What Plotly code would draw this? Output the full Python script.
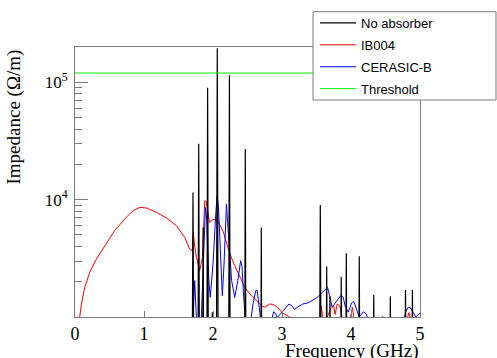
import plotly.graph_objects as go

# ---------------- data ----------------
# No absorber: narrow resonances (GHz, Ohm/m); baseline points lie below the axis range
no_abs_freq = [0.0, 1.700, 1.710, 1.720, 1.783, 1.793, 1.803, 1.850, 1.857, 1.864,
               1.912, 1.922, 1.932, 1.985, 1.990, 1.995, 2.050, 2.062, 2.074,
               2.228, 2.238, 2.248, 2.460, 2.468, 2.476, 2.694, 2.700, 2.706,
               3.545, 3.555, 3.565, 3.642, 3.648, 3.654, 3.690, 3.695, 3.700,
               3.852, 3.858, 3.864, 3.926, 3.932, 3.938, 4.114, 4.120, 4.126,
               4.325, 4.330, 4.335, 4.565, 4.570, 4.575, 4.784, 4.790, 4.796,
               4.884, 4.890, 4.896, 5.0]
no_abs_z = [500, 500, 11500, 500, 500, 30000, 500, 500, 5800, 500,
            500, 90000, 500, 500, 1100, 500, 500, 195000, 500,
            500, 115000, 500, 500, 27000, 500, 500, 5800, 500,
            500, 9000, 500, 500, 2700, 500, 500, 1500, 500,
            500, 2200, 500, 500, 3500, 500, 500, 3300, 500,
            500, 1550, 500, 500, 1500, 500, 500, 1700, 500,
            500, 1700, 500, 500]

ib004_freq = [0.068, 0.093, 0.141, 0.213, 0.31, 0.43, 0.575, 0.72, 0.84, 0.94, 1.035,
              1.18, 1.325, 1.47, 1.59, 1.66, 1.70, 1.715, 1.73, 1.76, 1.807, 1.846,
              1.88, 1.90, 1.95, 2.00, 2.07, 2.15, 2.24, 2.315, 2.387, 2.46, 2.535,
              2.63, 2.70, 2.75, 2.82, 2.87, 2.92, 3.01, 3.11, 3.16,
              3.55, 3.57, 3.60, 3.64, 3.705, 3.75, 3.77, 3.80, 3.84, 3.87, 3.91,
              3.98, 4.02, 4.05, 4.80, 4.84, 4.88]
ib004_z = [1000, 1290, 1790, 2400, 3120, 4060, 5440, 6840, 8060, 8600, 8490,
           7800, 6980, 6000, 4780, 3800, 3670, 5300, 4200, 3220, 2480, 3220,
           9800, 9700, 6400, 6800, 6600, 5300, 3500, 2740, 2180, 1790, 1570,
           1380, 1250, 1210, 1290, 1280, 1230, 1080, 1000, 900,
           900, 1240, 900, 950, 1170, 1250, 1050, 1290, 1240, 1000, 900,
           900, 1210, 900, 900, 1090, 900]

cerasic_freq = [1.70, 1.71, 1.735, 1.76, 1.83, 1.87, 1.89, 1.91, 1.94, 1.96, 2.00,
                2.04, 2.06, 2.08, 2.11, 2.135, 2.16, 2.185, 2.195, 2.22, 2.27, 2.315,
                2.36, 2.40, 2.42, 2.445, 2.47, 2.55, 2.58, 2.62, 2.64, 2.67, 2.69,
                2.85, 2.88, 2.91, 2.93, 2.99, 3.04, 3.10, 3.14, 3.18, 3.23, 3.30,
                3.38, 3.45, 3.51, 3.57, 3.63, 3.66, 3.69, 3.725, 3.76, 3.81, 3.85,
                3.885, 3.92, 3.96, 4.01, 4.04, 4.08, 4.12, 4.18, 4.22, 4.24, 4.44,
                4.46, 4.48, 4.77, 4.79, 4.83, 4.86, 4.90, 4.94, 4.97, 5.0]
cerasic_z = [900, 950, 2040, 950, 950, 5440, 8600, 6630, 2040, 1470, 2830,
             7550, 10800, 8600, 2830, 1520, 2830, 9200, 9200, 5440, 2040, 1470,
             2040, 3020, 2700, 1470, 950, 950, 1290, 1680, 1680, 1210, 950,
             950, 1110, 1060, 990, 1080, 1160, 1290, 1250, 1160, 1220, 1290,
             1320, 1390, 1470, 1590, 1700, 1790, 1520, 1220, 1290, 1430, 1520,
             1480, 1210, 1100, 1320, 1360, 1160, 1000, 1110, 1060, 990, 950,
             1010, 950, 950, 1100, 1210, 1200, 1100, 1000, 1040, 1080]

threshold_freq = [0.0, 5.0]
threshold_z = [1.2e5, 1.2e5]

x_ticks = [0, 1, 2, 3, 4, 5]
y_ticks = [1e4, 1e5]
y_ticktext = ["10<sup>4</sup>", "10<sup>5</sup>"]
y_minor = [m * 10 ** e for e in (3, 4) for m in range(2, 10)] + [2e5]

# ---------------- figure ----------------
W, H = 497, 358
L, R, T, B = 75, 77, 47, 41
pw, ph = W - L - R, H - T - B


def px_x(p):
    return (p - L) / pw


def px_y(p):
    return (H - B - p) / ph


fig = go.Figure()
fig.add_trace(go.Scatter(x=ib004_freq, y=ib004_z, mode="lines", name="IB004",
                         line=dict(color="#ff0000", width=1), legendrank=2,
                         legendgroup="b"))
fig.add_trace(go.Scatter(x=cerasic_freq, y=cerasic_z, mode="lines", name="CERASIC-B",
                         line=dict(color="#0000ff", width=1), legendrank=3,
                         legendgroup="c"))
fig.add_trace(go.Scatter(x=no_abs_freq, y=no_abs_z, mode="lines", name="No absorber",
                         line=dict(color="#000000", width=1.2), legendrank=1,
                         legendgroup="a"))
fig.add_trace(go.Scatter(x=threshold_freq, y=threshold_z, mode="lines", name="Threshold",
                         line=dict(color="#00ee00", width=1), legendrank=4,
                         legendgroup="d"))

frame = "#7a7a7a"
serif = "Liberation Serif, Times New Roman, serif"
sans = "Liberation Sans, Arial, Helvetica, sans-serif"

fig.update_layout(
    width=W, height=H,
    margin=dict(l=L, r=R, t=T, b=B, pad=0, autoexpand=False),
    paper_bgcolor="white", plot_bgcolor="white",
    showlegend=True,
    legend=dict(x=px_x(315), xanchor="left", y=px_y(8), yanchor="top",
                bgcolor="rgba(0,0,0,0)", borderwidth=0, itemwidth=36,
                font=dict(family=sans, size=13, color="black"),
                tracegroupgap=2),
    xaxis=dict(range=[0, 5], tickvals=x_ticks, ticks="inside", ticklen=6,
               tickcolor=frame, showline=True, linecolor=frame, linewidth=1,
               mirror=True, showgrid=False, zeroline=False,
               tickfont=dict(family=serif, size=18, color="black")),
    yaxis=dict(type="log", range=[3, 5.301], tickvals=y_ticks, ticktext=y_ticktext,
               ticks="inside", ticklen=13, tickcolor=frame, showline=True,
               linecolor=frame, linewidth=1, mirror=True, showgrid=False,
               zeroline=False, tickfont=dict(family=serif, size=17, color="black"),
               ticklabelstandoff=3,
               minor=dict(tickvals=y_minor, ticks="inside", ticklen=7,
                          tickcolor=frame, showgrid=False)),
    shapes=[dict(type="rect", xref="paper", yref="paper",
                 x0=px_x(313), x1=px_x(496), y0=px_y(100), y1=px_y(11.7),
                 line=dict(color=frame, width=1), fillcolor="white", layer="above")],
    annotations=[
        dict(text="Impedance (Ω/m)", xref="paper", yref="paper",
             x=px_x(14), y=px_y(48), xanchor="center", yanchor="top",
             textangle=-90, showarrow=False,
             font=dict(family=serif, size=19, color="black")),
        dict(text="Frequency (GHz)", xref="paper", yref="paper",
             x=1.0, y=px_y(351), xanchor="right", yanchor="middle",
             showarrow=False, font=dict(family=serif, size=19, color="black")),
    ],
)

fig.write_html("out.html",
               config={"displayModeBar": False},
               post_script="document.body.style.margin='0';"
                           "document.body.style.overflow='hidden';")
